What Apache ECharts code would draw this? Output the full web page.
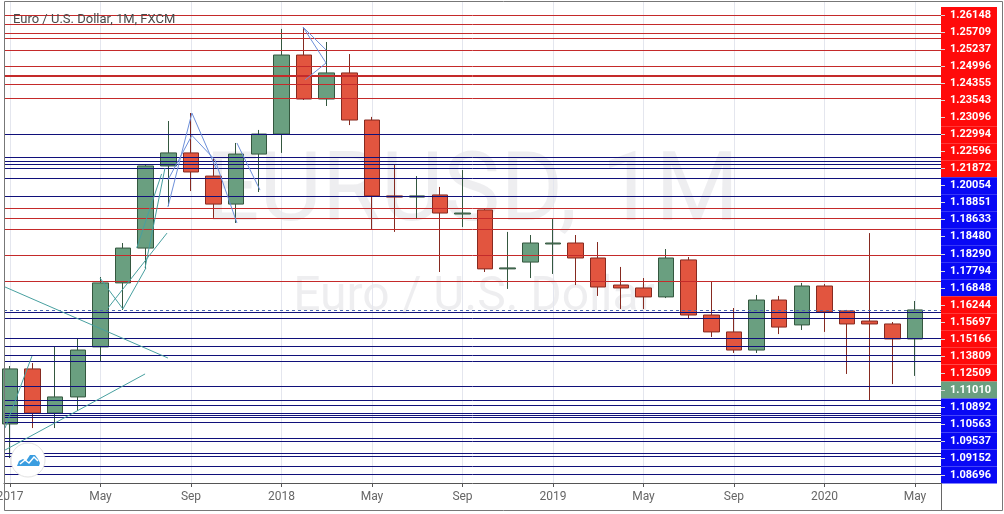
<!DOCTYPE html>
<html><head><meta charset="utf-8">
<script src="https://cdn.jsdelivr.net/npm/echarts@6/dist/echarts.min.js"></script>
<style>html,body{margin:0;padding:0;background:#fff}#c{width:1004px;height:514px}</style>
</head><body><div id="c"></div>
<script>
// ---- data ----
const months = ['2017-01','2017-02','2017-03','2017-04','2017-05','2017-06','2017-07','2017-08','2017-09','2017-10','2017-11','2017-12',
  '2018-01','2018-02','2018-03','2018-04','2018-05','2018-06','2018-07','2018-08','2018-09','2018-10','2018-11','2018-12',
  '2019-01','2019-02','2019-03','2019-04','2019-05','2019-06','2019-07','2019-08','2019-09','2019-10','2019-11','2019-12',
  '2020-01','2020-02','2020-03','2020-04','2020-05'];
const openP  = [1.0515,1.0798,1.0571,1.0654,1.0911,1.1240,1.1419,1.1841,1.1908,1.1789,1.1645,1.1902,
  1.2005,1.2411,1.2185,1.2319,1.2077,1.1687,1.1681,1.1692,1.1594,1.1615,1.1312,1.1347,
  1.1440,1.1445,1.1368,1.1229,1.1214,1.1168,1.1358,1.1075,1.0988,1.0895,1.1152,1.1024,
  1.1224,1.1096,1.1044,1.1029,1.0952];
const closeP = [1.0798,1.0571,1.0654,1.0895,1.1240,1.1419,1.1841,1.1908,1.1810,1.1645,1.1902,1.2005,
  1.2411,1.2185,1.2319,1.2077,1.1687,1.1681,1.1687,1.1599,1.1599,1.1312,1.1317,1.1445,
  1.1445,1.1368,1.1219,1.1214,1.1168,1.1368,1.1075,1.0988,1.0895,1.1152,1.1013,1.1224,
  1.1091,1.1029,1.1029,1.0952,1.1101];
const lowP   = [1.0340,1.0494,1.0494,1.0582,1.0834,1.1101,1.1312,1.1635,1.1712,1.1574,1.1548,1.1707,
  1.1908,1.2180,1.2149,1.2051,1.1512,1.1502,1.1568,1.1296,1.1527,1.1296,1.1209,1.1265,
  1.1286,1.1229,1.1173,1.1106,1.1106,1.1162,1.1054,1.0962,1.0880,1.0880,1.0977,1.0998,
  1.0988,1.0772,1.0638,1.0720,1.0762];
const highP  = [1.0813,1.0828,1.0911,1.0952,1.1270,1.1445,1.1846,1.2072,1.2113,1.1882,1.1959,1.2026,
  1.2545,1.2555,1.2478,1.2416,1.2093,1.1851,1.1789,1.1733,1.1820,1.1620,1.1502,1.1486,
  1.1568,1.1486,1.1450,1.1322,1.1265,1.1414,1.1373,1.1245,1.1111,1.1178,1.1173,1.1240,
  1.1234,1.1101,1.1496,1.1039,1.1147];

const tickMonths = ['2017-01','2017-05','2017-09','2018-01','2018-05','2018-09','2019-01','2019-05','2019-09','2020-01','2020-05'];
const tickLabels = ['2017','May','Sep','2018','May','Sep','2019','May','Sep','2020','May'];

const levelLabels = ['1.26148','1.25709','1.25237','1.24996','1.24355','1.23543','1.23096','1.22994','1.22596','1.21872',
  '1.20054','1.18851','1.18633','1.18480','1.18290','1.17794','1.16848',
  '1.16244','1.15697','1.15166','1.13809','1.12509',
  '1.11010',
  '1.10892','1.10563','1.09537','1.09152','1.08696'];
const levelGroups = ['res','res','res','res','res','res','res','res','res','res',
  'sup','sup','sup','sup','sup','sup','sup',
  'res','res','res','res','res',
  'last',
  'sup','sup','sup','sup','sup'];
const extraSupport = [1.0839,1.0710,1.0638,1.0613,1.0571,1.0561,1.0551,1.0525,1.0443,1.0428,1.0366,1.0351,1.0299,1.0258];

// drawings: [monthIndex, price] points
const tealLines = [
  [[-0.22,1.1219],[6.98,1.0854]],
  [[-0.22,1.0381],[5.97,1.0772]],
  [[-0.22,1.0494],[0.97,1.0864]],
  [[4.33,1.1111],[6.94,1.1496]],
  [[3.98,1.1265],[4.99,1.1106],[6.01,1.1317]],
  [[5.97,1.1317],[6.85,1.1830]],
  [[5.60,1.1419],[6.70,1.1800]]
];
const blueLines = [
  [[6.98,1.1630],[8.04,1.2113],[9.10,1.1830]],
  [[6.98,1.1769],[8.04,1.1998],[9.06,1.1872],[10.03,1.1548]],
  [[10.03,1.1959],[11.05,1.1717]],
  [[12.95,1.2555],[13.97,1.2370]],
  [[12.95,1.2555],[13.97,1.2437]],
  [[13.04,1.2283],[13.97,1.2370]]
];

// ---- chart ----
const X_MIN = -0.265, X_MAX = 41.15;
const groupColor = {res:'#ff0a0a', sup:'#0808f5', last:'#6a9f80'};
const tickIdx = tickMonths.map(m => months.indexOf(m));
const candles = months.map((m,i) => [i, openP[i], closeP[i], lowP[i], highP[i]]);

function hLine(v, style) {
  return [{coord:[X_MIN, v], lineStyle:style}, {coord:[X_MAX, v]}];
}
const lineMarks = [];
levelLabels.forEach((l,i) => {
  const g = levelGroups[i];
  if (g === 'last') {
    lineMarks.push(hLine(parseFloat(l), {color:'#4a66b0', type:[3,3], width:1}));
  } else {
    lineMarks.push(hLine(parseFloat(l), {color: g === 'res' ? '#c42a2a' : '#10107a', width:1, type:'solid'}));
  }
});
extraSupport.forEach(v => lineMarks.push(hLine(v, {color:'#10107a', width:1, type:'solid'})));

const drawSeries = [];
tealLines.forEach(pts => drawSeries.push({type:'line', xAxisIndex:0, yAxisIndex:0, data:pts, symbol:'none', silent:true, z:6,
  lineStyle:{color:'#48a0a0', width:1}}));
blueLines.forEach(pts => drawSeries.push({type:'line', xAxisIndex:0, yAxisIndex:0, data:pts, symbol:'none', silent:true, z:6,
  lineStyle:{color:'#6d90da', width:1}}));

const chart = echarts.init(document.getElementById('c'), null, {renderer:'canvas'});
chart.setOption({
  animation:false,
  backgroundColor:'#ffffff',
  grid:[
    {left:4, right:63, top:2, bottom:31, containLabel:false, outerBoundsMode:'none'},
    {left:941, right:7, top:7, bottom:30.5, containLabel:false, outerBoundsMode:'none'}
  ],
  xAxis:[
    {type:'value', gridIndex:0, min:X_MIN, max:X_MAX,
      axisLine:{show:true, onZero:false, lineStyle:{color:'#555'}},
      axisTick:{show:true, customValues:tickIdx, length:4, lineStyle:{color:'#555'}},
      axisLabel:{customValues:tickIdx, formatter:v => tickLabels[tickIdx.indexOf(Math.round(v))], color:'#666',
        fontSize:12, margin:8, fontFamily:'Roboto, sans-serif'},
      splitLine:{show:true, lineStyle:{color:'#e4e6ee', width:1}}
    },
    {type:'value', gridIndex:1, min:0, max:1, show:false}
  ],
  yAxis:[
    {type:'value', gridIndex:0, min:1.02117, max:1.26835, show:false, splitLine:{show:false}},
    {type:'category', gridIndex:1, data:levelLabels, inverse:true, z:10,
      axisLine:{show:false},
      axisTick:{show:true, inside:true, alignWithLabel:true, length:4, lineStyle:{color:'#d8d8d8'}},
      axisLabel:{inside:true, color:'#ffffff', fontWeight:'bold', fontSize:11, margin:9, fontFamily:'Roboto, sans-serif'}
    }
  ],
  graphic:{elements:[
    {type:'text', z:0, x:472, y:196, style:{text:'EURUSD, 1M', fontSize:96, fontFamily:'Roboto, sans-serif',
      fill:'rgba(90,90,110,0.10)', align:'center', verticalAlign:'middle'}},
    {type:'text', z:0, x:474, y:298, style:{text:'Euro / U.S. Dollar', fontSize:48, fontFamily:'Roboto, sans-serif',
      fill:'rgba(90,90,110,0.10)', align:'center', verticalAlign:'middle'}},
    {type:'text', z:20, x:13, y:20, style:{text:'Euro / U.S. Dollar, 1M, FXCM', fontSize:13, fontFamily:'Roboto, sans-serif',
      fill:'#4a4a4a', align:'left', verticalAlign:'middle'}},
    {type:'group', z:40, children:[
      {type:'circle', z:40, shape:{cx:28, cy:460, r:17}, style:{fill:'#ffffff', stroke:'#e2e2e2', lineWidth:1}},
      {type:'polygon', z:41, shape:{points:[[17,466],[19,461],[23,459],[26,461],[30,455],[35,455],[38,459],[40,463],[39,466]]},
        style:{fill:'#3a9de0'}},
      {type:'polyline', z:42, shape:{points:[[20,464],[25,460],[29,463],[34,457],[38,461]]},
        style:{stroke:'#ffffff', lineWidth:1.5, fill:'none'}}
    ]},
    {type:'rect', z:30, shape:{x:4.5, y:1.5, width:998, height:509}, style:{fill:'none', stroke:'#777', lineWidth:1}},
    {type:'line', z:30, shape:{x1:941.5, y1:483, x2:941.5, y2:510}, style:{stroke:'#666', lineWidth:1}}
  ]},
  series:[
    {type:'candlestick', xAxisIndex:0, yAxisIndex:0, data:candles, encode:{x:0, y:[1,2,3,4]},
      barWidth:16, silent:true, z:2,
      itemStyle:{color:'#6a9f80', color0:'#e2553f', borderColor:'#34573f', borderColor0:'#862a20', borderWidth:1}
    },
    {type:'line', xAxisIndex:0, yAxisIndex:0, data:months.map((m,i) => [i, closeP[i]]), symbol:'none', showSymbol:false,
      silent:true, z:1, lineStyle:{opacity:0, width:0},
      markLine:{silent:true, symbol:'none', precision:6, label:{show:false}, z:5, animation:false, data:lineMarks}
    },
    ...drawSeries,
    {type:'bar', xAxisIndex:1, yAxisIndex:1, silent:true, z:1, barCategoryGap:'0%',
      data:levelLabels.map((l,i) => ({value:1, itemStyle:{color:groupColor[levelGroups[i]]}}))}
  ]
});
</script></body></html>
